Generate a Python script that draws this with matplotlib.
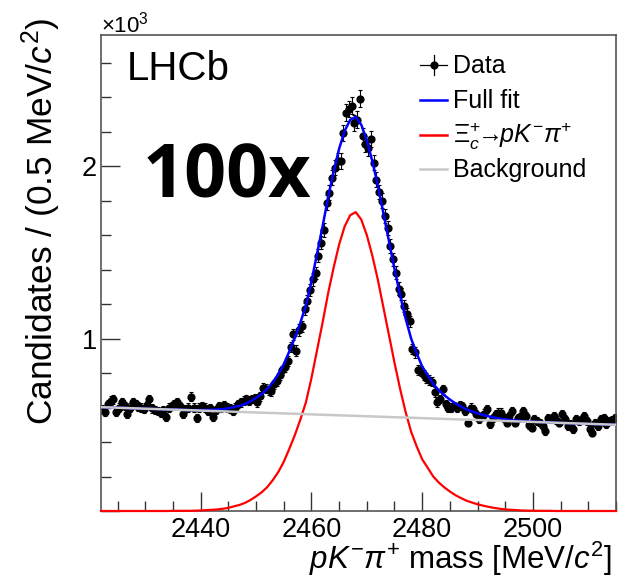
import numpy as np
import matplotlib
matplotlib.use('Agg')
import matplotlib.pyplot as plt
from matplotlib.ticker import MultipleLocator, FuncFormatter
from matplotlib.lines import Line2D

plt.rcParams['font.family'] = ['Liberation Sans', 'DejaVu Sans']
plt.rcParams['mathtext.fontset'] = 'custom'
plt.rcParams['mathtext.rm'] = 'Liberation Sans'
plt.rcParams['mathtext.it'] = 'Liberation Sans:italic'
plt.rcParams['mathtext.bf'] = 'Liberation Sans:bold'

# ---------------- data (candidates, units of 10^3 per 0.5 MeV bin) ----------------
bin_low = 2422.0
bin_width = 0.5
data_counts = [
    0.59, 0.575, 0.62, 0.64, 0.648, 0.575, 0.60, 0.63, 0.61, 0.565,
    0.60, 0.63, 0.62, 0.605, 0.60, 0.59, 0.615, 0.648, 0.595, 0.585,
    0.58, 0.571, 0.585, 0.545, 0.60, 0.61, 0.62, 0.63, 0.61, 0.561,
    0.59, 0.60, 0.662, 0.60, 0.542, 0.60,
    0.61, 0.60, 0.58, 0.595, 0.545, 0.585, 0.61, 0.60, 0.615, 0.60,
    0.595, 0.58, 0.60, 0.62, 0.63, 0.64, 0.645, 0.64, 0.65, 0.655,
    0.63, 0.665, 0.715, 0.71, 0.70, 0.695, 0.735, 0.755, 0.79, 0.815,
    0.835, 0.87, 0.95, 1.025, 0.93, 1.05, 1.07, 1.17, 1.22, 1.28,
    1.344, 1.38, 1.48, 1.556, 1.63, 1.788, 1.846, 1.933, 1.99, 2.03,
    2.03, 2.19, 2.31, 2.33, 2.35, 2.25, 2.27, 2.39, 2.174, 2.13,
    2.107, 2.155, 2.02, 1.92, 1.85, 1.80, 1.71, 1.643, 1.537, 1.46,
    1.382, 1.29, 1.257, 1.19, 1.141,
    1.10, 0.94, 0.92, 0.82, 0.81, 0.79, 0.77, 0.76, 0.75, 0.69,
    0.63, 0.65, 0.706, 0.62, 0.60, 0.60, 0.61, 0.60, 0.615, 0.61,
    0.58, 0.513, 0.60, 0.59, 0.56, 0.532, 0.55, 0.565, 0.59, 0.503,
    0.54, 0.561, 0.571, 0.571, 0.54, 0.513, 0.55, 0.58, 0.513, 0.54,
    0.545, 0.58, 0.552, 0.50, 0.484, 0.532, 0.52, 0.513, 0.49, 0.465,
    0.542, 0.532, 0.552, 0.53, 0.513, 0.561, 0.532, 0.494, 0.503, 0.475,
    0.532, 0.523, 0.53, 0.552, 0.523, 0.474, 0.455, 0.513, 0.494, 0.532,
    0.542, 0.503, 0.523, 0.53, 0.542,
]

# ---------------- fit curves sampled every 1 MeV from 2422 to 2515 ----------------
curve_start = 2422
signal_curve = [
    0.000, 0.000, 0.000, 0.000, 0.000, 0.000, 0.000, 0.000, 0.000, 0.000,
    0.000, 0.000, 0.000, 0.001, 0.001, 0.001, 0.001, 0.002, 0.003, 0.005,
    0.007, 0.009, 0.013, 0.018, 0.027, 0.035, 0.047, 0.064, 0.085, 0.108,
    0.138, 0.178, 0.225, 0.285, 0.360, 0.440, 0.530, 0.630, 0.770, 0.930,
    1.090, 1.260, 1.410, 1.545, 1.650, 1.715, 1.733, 1.690, 1.600, 1.480,
    1.340, 1.180, 1.020, 0.860, 0.710, 0.575, 0.460, 0.375, 0.300, 0.250,
    0.200, 0.165, 0.137, 0.113, 0.092, 0.075, 0.060, 0.049, 0.039, 0.031,
    0.024, 0.018, 0.013, 0.009, 0.007, 0.005, 0.003, 0.002, 0.002, 0.001,
    0.001, 0.001, 0.000, 0.000, 0.000, 0.000, 0.000, 0.000, 0.000, 0.000,
    0.000, 0.000, 0.000, 0.000,
]
total_curve = [
    0.602, 0.601, 0.600, 0.599, 0.598, 0.596, 0.595, 0.594, 0.593, 0.592,
    0.591, 0.590, 0.589, 0.589, 0.588, 0.587, 0.585, 0.585, 0.585, 0.586,
    0.587, 0.588, 0.591, 0.595, 0.603, 0.610, 0.620, 0.636, 0.656, 0.678,
    0.707, 0.746, 0.792, 0.851, 0.925, 1.004, 1.092, 1.191, 1.330, 1.489,
    1.648, 1.817, 1.966, 2.100, 2.204, 2.268, 2.285, 2.240, 2.149, 2.028,
    1.887, 1.726, 1.565, 1.404, 1.253, 1.117, 1.000, 0.914, 0.838, 0.787,
    0.736, 0.700, 0.671, 0.646, 0.624, 0.606, 0.589, 0.577, 0.566, 0.557,
    0.549, 0.542, 0.536, 0.531, 0.528, 0.525, 0.521, 0.519, 0.518, 0.516,
    0.515, 0.514, 0.512, 0.511, 0.510, 0.508, 0.507, 0.506, 0.505, 0.504,
    0.503, 0.502, 0.501, 0.500,
]
bkg_x = [2422, 2515]
bkg_curve = [0.602, 0.500]

x_ticks_major = [2440, 2460, 2480, 2500]
legend_labels = ['Data', 'Full fit',
                 r'$\mathit{Ξ}_c^{+}\!\!\rightarrow\!\! pK^{-}\pi^{+}$', 'Background']

# ---------------- figure ----------------
W, H = 621, 576
fig = plt.figure(figsize=(W / 100, H / 100), dpi=100)
ax = fig.add_axes([101 / W, 1 - 511 / H, 515 / W, 476 / H])

xc = bin_low + bin_width * (np.arange(len(data_counts)) + 0.5)
y = np.array(data_counts)
yerr = np.sqrt(y * 1000.0) / 1000.0
xcur = curve_start + np.arange(len(total_curve))

ax.errorbar(xc, y, yerr=yerr, xerr=bin_width / 2, fmt='o', color='black',
            ms=4.9, elinewidth=0.8, capsize=1.6, capthick=0.8, zorder=2)
ax.plot(xcur, total_curve, color='#0000ff', lw=1.8, zorder=3)
ax.plot(xcur, signal_curve, color='#ff0000', lw=1.6, zorder=3, clip_on=False)
ax.plot(bkg_x, bkg_curve, color='#c8c8c8', lw=1.8, zorder=4)

ax.set_xlim(2422, 2515)
ax.set_ylim(0, 2.76)
ax.set_xticks(x_ticks_major)
ax.xaxis.set_minor_locator(MultipleLocator(5))
ax.yaxis.set_major_locator(MultipleLocator(1))
ax.yaxis.set_minor_locator(MultipleLocator(0.2))
ax.yaxis.set_major_formatter(FuncFormatter(lambda v, p: '' if abs(v) < 1e-9 else '%d' % round(v)))
ax.tick_params(which='both', direction='in', top=False, right=False, width=1.0, color='#333333')
ax.tick_params(which='major', length=14)
ax.tick_params(which='minor', length=7)
ax.tick_params(axis='x', labelsize=19.5, pad=4)
ax.tick_params(axis='y', labelsize=19.5, pad=3)
for s in ax.spines.values():
    s.set_color('#555555')
    s.set_linewidth(1.2)

fig.text(612 / W, 1 - 569 / H, r'$pK^{-}\pi^{+}$ mass [MeV/$c^{2}$]', ha='right',
         va='baseline', fontsize=22.5)
fig.text(41 / W, 1 - 18 / H, r'Candidates / (0.5 MeV/$c^{2}$)', rotation=90,
         ha='center', va='top', fontsize=25.5)
fig.text(101 / W, 1 - 33 / H, r'$\times$10$^{3}$', ha='left', va='baseline', fontsize=16)
fig.text(127 / W, 1 - 80 / H, 'LHCb', ha='left', va='baseline', fontsize=29)
fig.text(143 / W, 1 - 197 / H, '100x', ha='left', va='baseline', fontsize=53,
         fontweight='bold', family=['Open Sans', 'DejaVu Sans'])

# ---------------- legend (drawn row by row, ROOT style) ----------------
def fx(px):
    return px / W

def fy(py):
    return 1 - py / H

legend_baselines = [73, 108, 143, 177]
legend_colors = ['black', '#0000ff', '#ff0000', '#c8c8c8']
hx0, hx1, tx = 420, 447, 453
for lab, base, col in zip(legend_labels, legend_baselines, legend_colors):
    yc = base - 8.5
    fig.add_artist(Line2D([fx(hx0), fx(hx1)], [fy(yc), fy(yc)], color=col,
                          lw=0.9 if col == 'black' else 1.8, transform=fig.transFigure))
    if col == 'black':
        xm = (hx0 + hx1) / 2
        fig.add_artist(Line2D([fx(xm), fx(xm)], [fy(yc - 10), fy(yc + 10)], color='black',
                              lw=0.9, transform=fig.transFigure))
        fig.add_artist(Line2D([fx(xm)], [fy(yc)], marker='o', ms=4.9, color='black',
                              transform=fig.transFigure))
    fig.text(fx(tx), fy(base), lab, ha='left', va='baseline', fontsize=18)

fig.savefig('out.png', dpi=100)
